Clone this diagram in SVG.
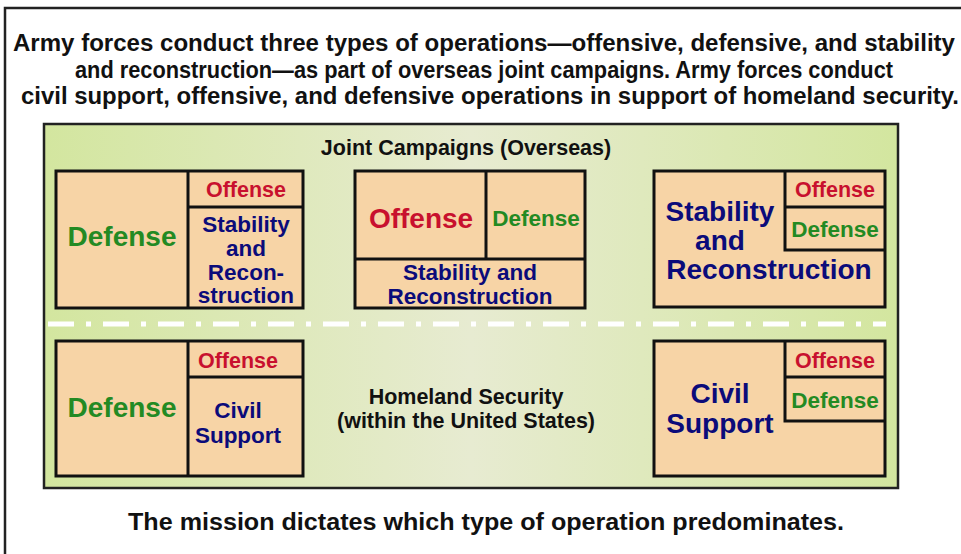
<svg xmlns="http://www.w3.org/2000/svg" width="961" height="554" viewBox="0 0 961 554">
<defs>
<linearGradient id="g" x1="0" y1="0" x2="1" y2="0">
<stop offset="0" stop-color="#d3e69f"/>
<stop offset="0.5" stop-color="#e7ebd1"/>
<stop offset="1" stop-color="#d3e69f"/>
</linearGradient>
</defs>
<style>
.box{fill:#f7d4a6;stroke:#111;stroke-width:3}
.t{font-family:"Liberation Sans",Arial,sans-serif;font-weight:bold;text-anchor:middle}
.n{font-family:"Liberation Sans Narrow","Liberation Sans",Arial,sans-serif;font-weight:bold;text-anchor:middle;font-size:23px;fill:#111}
.red{fill:#c8102e}.grn{fill:#238a23}.nav{fill:#0b0b7a}.blk{fill:#111}
.s18{font-size:21.5px}.s19{font-size:22.5px}.s24{font-size:28px}.s17{font-size:21.5px}
</style>
<rect x="0" y="0" width="961" height="554" fill="#fff"/>
<path d="M5,554 V8 H961" fill="none" stroke="#222" stroke-width="2.5"/>
<g id="title">
<text class="n" x="484" y="51" textLength="942" lengthAdjust="spacingAndGlyphs">Army forces conduct three types of operations—offensive, defensive, and stability</text>
<text class="n" x="484" y="78" textLength="818" lengthAdjust="spacingAndGlyphs">and reconstruction—as part of overseas joint campaigns. Army forces conduct</text>
<text class="n" x="490" y="104" textLength="938" lengthAdjust="spacingAndGlyphs">civil support, offensive, and defensive operations in support of homeland security.</text>
</g>
<g id="panel">
<rect x="44" y="124" width="854" height="364" fill="url(#g)" stroke="#222" stroke-width="2.5"/>
<text class="t blk s17" x="466" y="155">Joint Campaigns (Overseas)</text>
<line x1="48" y1="324" x2="886" y2="324" stroke="#fff" stroke-width="5" stroke-dasharray="26,12,5,12"/>
<text class="t blk s17" x="466" y="404">Homeland Security</text>
<text class="t blk s17" x="466" y="428">(within the United States)</text>
</g>
<g id="box1">
<rect class="box" x="56" y="171" width="247" height="137"/>
<line x1="188" y1="171" x2="188" y2="308" stroke="#111" stroke-width="3"/>
<line x1="188" y1="207" x2="303" y2="207" stroke="#111" stroke-width="3"/>
<text class="t grn s24" x="122" y="246">Defense</text>
<text class="t red s18" x="246" y="197">Offense</text>
<text class="t nav s19" x="246" y="232">Stability</text>
<text class="t nav s19" x="246" y="256">and</text>
<text class="t nav s19" x="246" y="280">Recon-</text>
<text class="t nav s19" x="246" y="303">struction</text>
</g>
<g id="box2">
<rect class="box" x="355" y="171" width="230" height="137"/>
<line x1="486" y1="171" x2="486" y2="259" stroke="#111" stroke-width="3"/>
<line x1="355" y1="259" x2="585" y2="259" stroke="#111" stroke-width="3"/>
<text class="t red s24" x="421" y="228">Offense</text>
<text class="t grn s19" x="536" y="226">Defense</text>
<text class="t nav s19" x="470" y="280">Stability and</text>
<text class="t nav s19" x="470" y="304">Reconstruction</text>
</g>
<g id="box3">
<rect class="box" x="654" y="171" width="231" height="136"/>
<path d="M885,250 H785 V171 M785,207 H885" fill="none" stroke="#111" stroke-width="3"/>
<text class="t red s18" x="835" y="197">Offense</text>
<text class="t grn s19" x="835" y="237">Defense</text>
<text class="t nav s24" x="720" y="221">Stability</text>
<text class="t nav s24" x="720" y="250">and</text>
<text class="t nav s24" x="769" y="279">Reconstruction</text>
</g>
<g id="box4">
<rect class="box" x="56" y="341" width="247" height="135"/>
<line x1="188" y1="341" x2="188" y2="476" stroke="#111" stroke-width="3"/>
<line x1="188" y1="377" x2="303" y2="377" stroke="#111" stroke-width="3"/>
<text class="t grn s24" x="122" y="417">Defense</text>
<text class="t red s18" x="238" y="368">Offense</text>
<text class="t nav s19" x="238" y="418">Civil</text>
<text class="t nav s19" x="238" y="443">Support</text>
</g>
<g id="box5">
<rect class="box" x="654" y="341" width="231" height="135"/>
<path d="M885,421 H785 V341 M785,377 H885" fill="none" stroke="#111" stroke-width="3"/>
<text class="t red s18" x="835" y="368">Offense</text>
<text class="t grn s19" x="835" y="408">Defense</text>
<text class="t nav s24" x="720" y="403">Civil</text>
<text class="t nav s24" x="720" y="433">Support</text>
</g>
<g id="footer">
<text class="n" x="486" y="530" textLength="716" lengthAdjust="spacingAndGlyphs">The mission dictates which type of operation predominates.</text>
</g>
</svg>
